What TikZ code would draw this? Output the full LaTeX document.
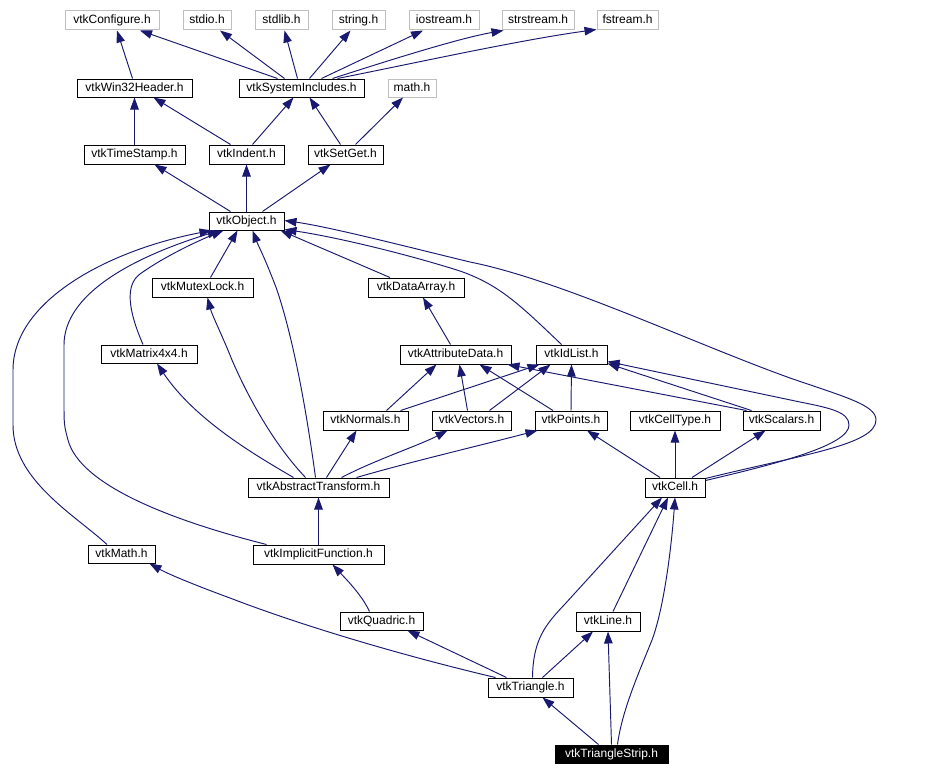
\documentclass[tikz,border=0pt]{standalone}
\usepackage{fontspec}
\setmainfont{Liberation Sans}
\usetikzlibrary{arrows.meta}
\definecolor{edgeblue}{HTML}{191970}
\definecolor{boxgray}{HTML}{BFBFBF}
\begin{document}
\begin{tikzpicture}[x=1pt,y=-1pt,
  box/.style={draw=black,line width=1pt,fill=white,inner sep=0pt,
    text height=8.8pt,text depth=2.5pt,font=\fontsize{12}{14}\selectfont},
  sysbox/.style={box,draw=boxgray},
  mainbox/.style={box,fill=black,text=white},
  edge/.style={draw=edgeblue,line width=0.95pt,-{Triangle[length=12pt,width=8.5pt]}},
]
\useasboundingbox[fill=white] (0,0) rectangle (928,776);
% ---- nodes
\node[sysbox,minimum width=94pt,minimum height=19pt] (conf) at (112,20.5) {vtkConfigure.h};
\node[sysbox,minimum width=48pt,minimum height=19pt] (stdio) at (207,20.5) {stdio.h};
\node[sysbox,minimum width=53pt,minimum height=19pt] (stdlib) at (281.5,20.5) {stdlib.h};
\node[sysbox,minimum width=53pt,minimum height=19pt] (string) at (358.5,20.5) {string.h};
\node[sysbox,minimum width=70pt,minimum height=19pt] (iostream) at (444,20.5) {iostream.h};
\node[sysbox,minimum width=72pt,minimum height=19pt] (strstream) at (538,20.5) {strstream.h};
\node[sysbox,minimum width=61pt,minimum height=19pt] (fstream) at (627.5,20.5) {fstream.h};
\node[box,minimum width=115pt,minimum height=18pt] (win32) at (134.5,88) {vtkWin32Header.h};
\node[box,minimum width=125pt,minimum height=18pt] (sysinc) at (301.5,88) {vtkSystemIncludes.h};
\node[sysbox,minimum width=48pt,minimum height=18pt] (math) at (412,88) {math.h};
\node[box,minimum width=101pt,minimum height=19pt] (timestamp) at (134.5,154.5) {vtkTimeStamp.h};
\node[box,minimum width=75pt,minimum height=19pt] (indent) at (246.5,154.5) {vtkIndent.h};
\node[box,minimum width=75pt,minimum height=19pt] (setget) at (345.5,154.5) {vtkSetGet.h};
\node[box,minimum width=75pt,minimum height=18pt] (object) at (246.5,221) {vtkObject.h};
\node[box,minimum width=101pt,minimum height=19pt] (mutex) at (202.5,287.5) {vtkMutexLock.h};
\node[box,minimum width=96pt,minimum height=19pt] (dataarray) at (416,287.5) {vtkDataArray.h};
\node[box,minimum width=96pt,minimum height=18pt] (matrix) at (149,354) {vtkMatrix4x4.h};
\node[box,minimum width=111pt,minimum height=19pt] (attrdata) at (455.5,354.5) {vtkAttributeData.h};
\node[box,minimum width=71pt,minimum height=19pt] (idlist) at (571.5,354.5) {vtkIdList.h};
\node[box,minimum width=85pt,minimum height=19pt] (normals) at (365.5,420.5) {vtkNormals.h};
\node[box,minimum width=79pt,minimum height=19pt] (vectors) at (471.5,420.5) {vtkVectors.h};
\node[box,minimum width=72pt,minimum height=19pt] (points) at (571,420.5) {vtkPoints.h};
\node[box,minimum width=90pt,minimum height=19pt] (celltype) at (675,420.5) {vtkCellType.h};
\node[box,minimum width=77pt,minimum height=19pt] (scalars) at (781.5,420.5) {vtkScalars.h};
\node[box,minimum width=141pt,minimum height=19pt] (abstract) at (318.5,487.5) {vtkAbstractTransform.h};
\node[box,minimum width=60pt,minimum height=19pt] (cell) at (675,487.5) {vtkCell.h};
\node[box,minimum width=67pt,minimum height=18pt] (vmath) at (121.5,554) {vtkMath.h};
\node[box,minimum width=131pt,minimum height=19pt] (implicit) at (318.5,554.5) {vtkImplicitFunction.h};
\node[box,minimum width=83pt,minimum height=18pt] (quadric) at (381.5,621) {vtkQuadric.h};
\node[box,minimum width=64pt,minimum height=19pt] (line) at (608,621.5) {vtkLine.h};
\node[box,minimum width=85pt,minimum height=19pt] (triangle) at (530.5,687.5) {vtkTriangle.h};
\node[mainbox,minimum width=113pt,minimum height=18pt] (strip) at (611.5,754) {vtkTriangleStrip.h};
% ---- edges, top part
\draw[edge] ([xshift=-2pt]win32.north) -- ([xshift=5pt]conf.south);
\draw[edge] ([xshift=-24pt]sysinc.north) -- ([xshift=28pt]conf.south);
\draw[edge] ([xshift=-17pt]sysinc.north) -- ([xshift=13pt]stdio.south);
\draw[edge] ([xshift=-4pt]sysinc.north) -- ([xshift=3pt]stdlib.south);
\draw[edge] ([xshift=8pt]sysinc.north) -- ([xshift=-8pt]string.south);
\draw[edge] ([xshift=20pt]sysinc.north) -- ([xshift=-21pt]iostream.south);
\draw[edge] ([xshift=31pt]sysinc.north) .. controls (390,60) and (460,38) .. ([xshift=2pt]strstream.south west);
\draw[edge] ([xshift=36pt]sysinc.north) .. controls (420,62) and (520,40) .. ([yshift=1pt]fstream.south west);
\draw[edge] (timestamp.north) -- (win32.south);
\draw[edge] ([xshift=-16pt]indent.north) -- ([xshift=19pt]win32.south);
\draw[edge] ([xshift=6pt]indent.north) -- ([xshift=-8pt]sysinc.south);
\draw[edge] ([xshift=-5pt]setget.north) -- ([xshift=8pt]sysinc.south);
\draw[edge] ([xshift=10pt]setget.north) -- ([xshift=-9pt]math.south);
\draw[edge] ([xshift=-16pt]object.north) -- ([xshift=20pt]timestamp.south);
\draw[edge] (object.north) -- (indent.south);
\draw[edge] ([xshift=16pt]object.north) -- ([xshift=-15pt]setget.south);
% ---- into vtkObject
\draw[edge] ([xshift=-14.5pt]vmath.north) .. controls (75,515) and (13,480) .. (13,425) -- (13,370) .. controls (13,300) and (110,250) .. ([xshift=3pt]object.south west);
\draw[edge] ([xshift=14pt]implicit.north west) .. controls (170,520) and (80,485) .. (68,440) .. controls (64,425) .. (64,400) -- (64,345) .. controls (64,295) and (130,258) .. ([xshift=11pt]object.south west);
\draw[edge] ([xshift=-6pt]matrix.north) .. controls (128,310) and (125,285) .. (140,274) .. controls (165,256) and (200,240) .. ([xshift=15pt]object.south west);
\draw[edge] ([xshift=8pt]mutex.north) -- ([xshift=-9pt]object.south);
\draw[edge] ([xshift=-3pt]abstract.north) .. controls (305,400) and (292,335) .. (277,290) .. controls (265,258) and (258,245) .. ([xshift=6pt]object.south);
\draw[edge] ([xshift=-26pt]dataarray.north) -- ([xshift=34pt]object.south);
\draw[edge] ([xshift=-10pt]idlist.north) .. controls (520,305) and (500,285) .. (460,271) .. controls (400,252) and (330,236) .. ([yshift=1pt]object.south east);
\draw[edge] ([yshift=-1pt]cell.north east) .. controls (800,455) and (876,445) .. (876,420) .. controls (876,405) and (845,397) .. (790,378) .. controls (690,342) and (560,280) .. (470,262) .. controls (400,245) and (330,227) .. ([yshift=-9pt]object.north east);
% ---- data layer
\draw[edge] ([xshift=-5pt]attrdata.north) -- ([xshift=7pt]dataarray.south);
\draw[edge] ([xshift=21pt]normals.north) -- ([xshift=-19pt]attrdata.south);
\draw[edge] ([xshift=-8pt]normals.north east) -- ([xshift=4pt]idlist.south west);
\draw[edge] ([xshift=-4pt]vectors.north) -- ([xshift=4pt]attrdata.south);
\draw[edge] ([xshift=18pt]vectors.north) -- ([xshift=-21pt]idlist.south);
\draw[edge] ([xshift=-18pt]points.north) -- ([xshift=24pt]attrdata.south);
\draw[edge] (points.north) -- (idlist.south);
\draw[edge] ([xshift=4pt]scalars.north west) -- ([xshift=-4pt]attrdata.south east);
\draw[edge] ([xshift=9pt]scalars.north west) -- ([yshift=1pt]idlist.south east);
\draw[edge] ([yshift=-3pt]cell.north east) .. controls (780,463) and (849,445) .. (849,425) .. controls (849,412) and (830,408) .. (800,402) -- ([yshift=3pt]idlist.south east);
% ---- abstract transform
\draw[edge] ([xshift=-25pt]abstract.north) .. controls (255,455) and (195,420) .. ([xshift=8pt]matrix.south);
\draw[edge] ([xshift=-13pt]abstract.north) .. controls (270,440) and (245,390) .. (232,360) .. controls (222,335) and (212,315) .. ([xshift=5pt]mutex.south);
\draw[edge] ([xshift=8pt]abstract.north) -- ([xshift=-9pt]normals.south);
\draw[edge] ([xshift=23pt]abstract.north) .. controls (375,460) and (420,445) .. ([xshift=-24pt]vectors.south);
\draw[edge] ([xshift=38pt]abstract.north) .. controls (410,462) and (470,448) .. ([xshift=3pt]points.south west);
% ---- cell
\draw[edge] ([xshift=-15pt]cell.north) -- ([xshift=16pt]points.south);
\draw[edge] (cell.north) -- (celltype.south);
\draw[edge] ([xshift=17pt]cell.north) -- ([xshift=-16pt]scalars.south);
% ---- lower part
\draw[edge] (implicit.north) -- (abstract.south);
\draw[edge] ([xshift=-12pt]quadric.north) .. controls (362,595) and (345,578) .. ([xshift=14pt]implicit.south);
\draw[edge] ([xshift=-35pt]triangle.north) .. controls (400,655) and (300,625) .. (230,598) .. controls (200,587) and (170,575) .. ([xshift=28pt]vmath.south);
\draw[edge] ([xshift=-24pt]triangle.north) -- ([xshift=26pt]quadric.south);
\draw[edge] ([xshift=12pt]triangle.north) -- ([xshift=-15pt]line.south);
\draw[edge] ([xshift=2pt]triangle.north) .. controls (533,640) and (545,625) .. (565,604) -- ([xshift=-13pt]cell.south);
\draw[edge] ([xshift=5pt]line.north) -- ([xshift=-7pt]cell.south);
\draw[edge] ([xshift=-13pt]strip.north) -- ([xshift=12pt]triangle.south);
\draw[edge] (strip.north) -- (line.south);
\draw[edge] ([xshift=6pt]strip.north) .. controls (622,710) and (640,670) .. (652,640) .. controls (665,605) and (672,540) .. (cell.south);
\end{tikzpicture}
\end{document}
